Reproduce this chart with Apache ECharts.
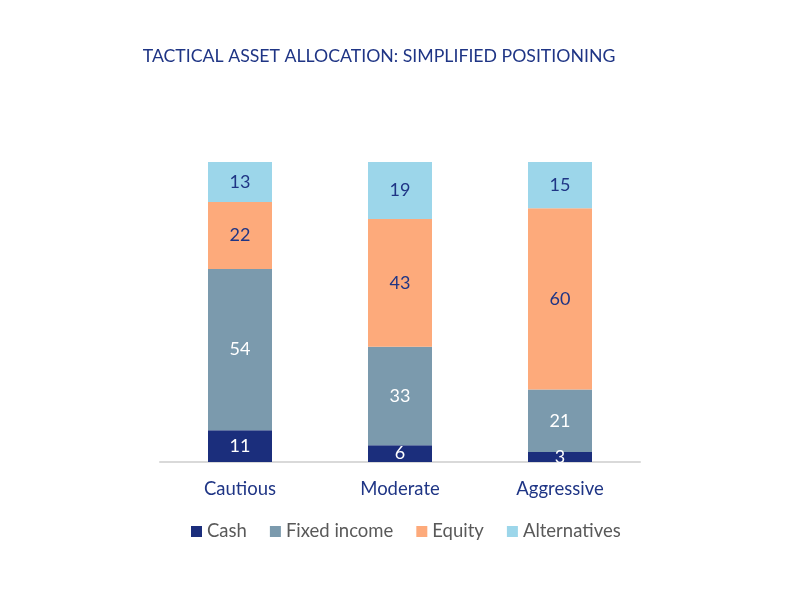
<!DOCTYPE html>
<html><head><meta charset="utf-8">
<script src="https://cdn.jsdelivr.net/npm/echarts@6/dist/echarts.min.js"></script>
<style>html,body{margin:0;padding:0;background:#fff}#c{width:800px;height:600px}</style>
</head><body><div id="c"></div>
<script>
const categories = ['Cautious', 'Moderate', 'Aggressive'];
const cash = [10.6, 5.6, 3.3];
const fixedIncome = [53.7, 32.8, 20.9];
const equity = [22.4, 42.6, 60.4];
const alternatives = [13.3, 19.0, 15.4];
const seriesNames = ['Cash', 'Fixed income', 'Equity', 'Alternatives'];
const colors = ['#1B2E7C', '#7B9AAD', '#FDAA7B', '#9CD6EA'];
const labelColors = ['#ffffff', '#ffffff', '#1F3585', '#1F3585'];
const FONT = 'Lato, "Open Sans", sans-serif';

const chart = echarts.init(document.getElementById('c'));
const dataSets = [cash, fixedIncome, equity, alternatives];
chart.setOption({
  animation: false,
  title: {
    text: 'TACTICAL ASSET ALLOCATION: SIMPLIFIED POSITIONING',
    left: 374, top: 42, textAlign: 'center',
    textStyle: { color: '#1F3585', fontSize: 17.7, fontWeight: 'normal', fontFamily: FONT }
  },
  legend: {
    bottom: 54, left: 186,
    itemWidth: 11, itemHeight: 11, itemGap: 23,
    icon: 'rect',
    textStyle: { color: '#595959', fontSize: 18.5, fontFamily: FONT },
    data: seriesNames
  },
  grid: { left: 160, right: 160, top: 162, bottom: 138 },
  xAxis: {
    type: 'category', data: categories,
    axisLine: { lineStyle: { color: '#D9D9D9', width: 2 } },
    axisTick: { show: false },
    axisLabel: { color: '#1F3585', fontSize: 18.5, fontFamily: FONT, margin: 18 }
  },
  yAxis: { type: 'value', min: 0, max: 100, show: false, splitLine: { show: false } },
  series: seriesNames.map((n, i) => ({
    name: n, type: 'bar', stack: 'total', barWidth: 64,
    data: dataSets[i],
    itemStyle: { color: colors[i] },
    label: {
      show: true, position: 'inside',
      color: labelColors[i], fontSize: 18, fontFamily: FONT,
      formatter: p => Math.round(p.value)
    }
  }))
});
</script></body></html>
